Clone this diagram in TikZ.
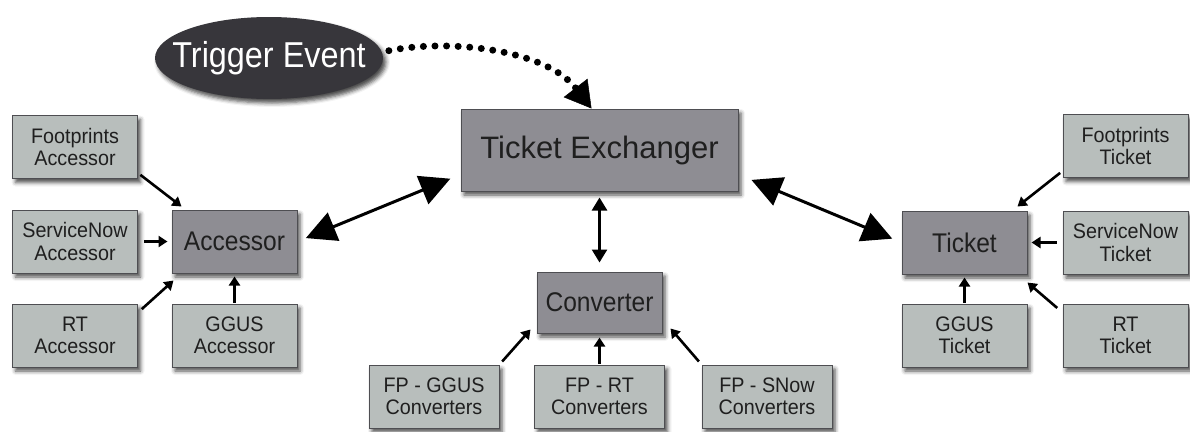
\documentclass[tikz,border=0pt]{standalone}
\usepackage{fontspec}
\setmainfont{Liberation Sans}
\usetikzlibrary{arrows.meta,shadows.blur,shapes.geometric}
\definecolor{lightbox}{RGB}{184,190,188}
\definecolor{darkfill}{RGB}{142,141,147}
\definecolor{evfill}{RGB}{55,54,59}
\definecolor{edgecol}{RGB}{78,78,82}
\begin{document}
\begin{tikzpicture}[x=1pt,y=-1pt,
  basebox/.style={draw=edgecol, line width=1pt, align=center, inner sep=0pt,
    text=black!88, blur shadow={shadow xshift=3pt, shadow yshift=-4pt, shadow blur radius=4pt, shadow opacity=70}},
  lbox/.style={basebox, fill=lightbox, minimum width=125pt, minimum height=63pt,
    font=\fontsize{21}{22.5}\selectfont\addfontfeature{FakeStretch=0.94}},
  cbox/.style={lbox, minimum width=130pt},
  dbox/.style={basebox, fill=darkfill, minimum width=125pt, minimum height=63pt,
    font=\fontsize{27}{29}\selectfont\addfontfeature{FakeStretch=0.91}},
  sarr/.style={line width=2.6pt, -{Triangle[length=9pt,width=11pt]}},
  marr/.style={line width=2.6pt, {Triangle[length=13pt,width=15pt]}-{Triangle[length=13pt,width=15pt]}},
  barr/.style={line width=3pt, {Triangle[length=30pt,width=30pt]}-{Triangle[length=30pt,width=30pt]}},
  dotarr/.style={line width=7pt, line cap=round, dash pattern=on 0pt off 11.6pt,
    -{Triangle[length=26pt,width=30pt,line width=0.5pt]}}
]
\useasboundingbox (0,0) rectangle (1190,431);

% Trigger event
\node[ellipse, fill=evfill, text=white, minimum width=228pt, minimum height=82pt,
  inner xsep=-17pt, inner ysep=0pt,
  font=\fontsize{36}{38}\selectfont\addfontfeature{FakeStretch=0.9},
  blur shadow={shadow xshift=3pt, shadow yshift=-4pt, shadow blur radius=4pt, shadow opacity=70}]
  (te) at (269,58) {Trigger Event};

% central
\node[dbox, minimum width=277pt, minimum height=82pt, font=\fontsize{31}{34}\selectfont] (tex) at (599.5,150) {Ticket Exchanger};
\node[dbox, minimum height=61pt] (conv) at (599.5,302.5) {Converter};

% accessor side
\node[lbox] (fpa) at (75,147) {Footprints\\Accessor};
\node[lbox] (sna) at (75,241.5) {ServiceNow\\Accessor};
\node[lbox] (rta) at (75,335.5) {RT\\Accessor};
\node[dbox] (acc) at (234.5,241.5) {Accessor};
\node[lbox] (gga) at (234.5,335.5) {GGUS\\Accessor};

% converters
\node[cbox] (fpg) at (434,396.5) {FP - GGUS\\Converters};
\node[cbox] (fpr) at (599.5,396.5) {FP - RT\\Converters};
\node[cbox] (fps) at (767,396.5) {FP - SNow\\Converters};

% ticket side
\node[dbox] (tkt) at (964.5,242.5) {Ticket};
\node[lbox] (fpt) at (1125.5,146) {Footprints\\Ticket};
\node[lbox] (snt) at (1125.5,242.5) {ServiceNow\\Ticket};
\node[lbox] (ggt) at (964.5,335.5) {GGUS\\Ticket};
\node[lbox] (rtt) at (1125.5,335.5) {RT\\Ticket};

% dotted trigger arrow
\draw[dotarr, shorten <=7pt] (te.3) .. controls +(70,-14) and +(-45,-58) .. ([xshift=-8pt]tex.north);

% big arrows
\draw[barr, shorten <=9pt, shorten >=11pt] (acc.east) -- (tex.190);
\draw[barr, shorten <=14pt, shorten >=10pt] (tex.350) -- (tkt.west);
\draw[marr, shorten <=6pt, shorten >=9pt] (tex.south) -- (conv.north);

% accessor inputs
\draw[sarr, shorten <=3pt] ([yshift=6pt]fpa.south east) -- ([xshift=10pt,yshift=3pt]acc.north west);
\draw[sarr, shorten <=6pt, shorten >=4pt] (sna.east) -- (acc.west);
\draw[sarr, shorten <=5pt] ([yshift=-9pt]rta.north east) -- ([xshift=2pt,yshift=-7pt]acc.south west);
\draw[sarr, shorten <=1pt, shorten >=3pt] (gga.north) -- (acc.south);

% converter inputs
\draw[sarr, shorten <=4pt] (fpg.north east) -- ([xshift=-6pt,yshift=4pt]conv.south west);
\draw[sarr, shorten <=1pt, shorten >=4pt] (fpr.north) -- (conv.south);
\draw[sarr, shorten <=4pt] (fps.north west) -- ([xshift=8pt,yshift=5pt]conv.south east);

% ticket inputs
\draw[sarr, shorten <=3pt] ([yshift=7pt]fpt.south west) -- ([xshift=-10pt,yshift=4pt]tkt.north east);
\draw[sarr, shorten <=6pt, shorten >=4pt] (snt.west) -- (tkt.east);
\draw[sarr, shorten <=7pt] ([yshift=-9pt]rtt.north west) -- ([yshift=-8pt]tkt.south east);
\draw[sarr, shorten <=1pt, shorten >=3pt] (ggt.north) -- (tkt.south);
\end{tikzpicture}
\end{document}
